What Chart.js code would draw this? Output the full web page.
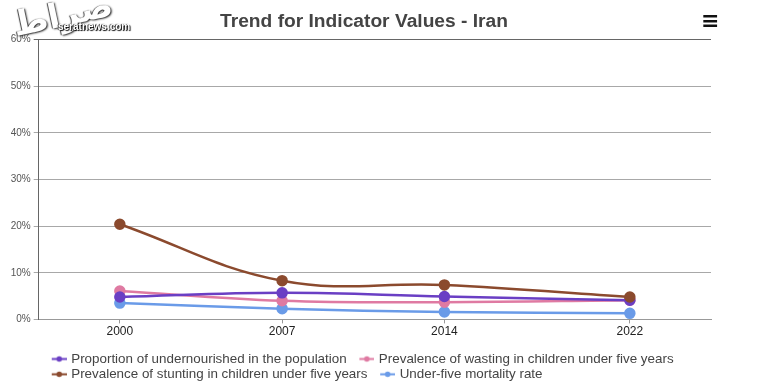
<!DOCTYPE html>
<html>
<head>
<meta charset="utf-8">
<script src="https://cdn.jsdelivr.net/npm/chart.js@4.4.1/dist/chart.umd.min.js"></script>
<style>
  html, body { margin: 0; padding: 0; background: #fff; }
  #wrap { position: relative; width: 764px; height: 391px; }
  #menu { position: absolute; left: 701px; top: 8px; font: bold 22px 'DejaVu Sans', sans-serif; color: #111; }
  #logo { position: absolute; left: 12px; top: -6px; font: bold 34px 'DejaVu Sans', sans-serif; color: #fff;
          text-shadow: 1px 1px 2px #222, -1px 0 1px #444; transform: rotate(-12deg); }
  #site { position: absolute; left: 58px; top: 21px; font: bold 10px 'Liberation Sans', Arial, sans-serif; color: #fff;
          text-shadow: 1px 1px 1px #000, -1px 0 1px #333; }
</style>
</head>
<body>
<div id="wrap">
  <canvas id="lineChart" width="764" height="391"></canvas>
  <div id="menu">≡</div>
  <div id="logo">صراط</div>
  <div id="site">seratnews.com</div>
</div>
<script>
const years = [2000, 2007, 2014, 2022];
const undernourished = [4.8, 5.7, 4.9, 4.1];
const wasting = [6.1, 4.0, 3.7, 4.1];
const stunting = [20.4, 8.3, 7.4, 4.8];
const mortality = [3.5, 2.3, 1.6, 1.3];
const yTicks = [0, 10, 20, 30, 40, 50, 60];

Chart.defaults.font.family = "'Liberation Sans', Arial, sans-serif";

// legend marker: short line with a dot, padded on the left
function marker(color) {
    const c = document.createElement('canvas');
    c.width = 28; c.height = 9;
    const g = c.getContext('2d');
    g.strokeStyle = color; g.lineWidth = 2;
    g.beginPath(); g.moveTo(13, 4.5); g.lineTo(28, 4.5); g.stroke();
    g.fillStyle = color;
    g.beginPath(); g.arc(20.5, 4.5, 2.8, 0, Math.PI * 2); g.fill();
    return c;
}

function series(label, data, color, order) {
    return {
        label: label,
        data: years.map((y, i) => ({x: y, y: data[i]})),
        borderColor: color,
        backgroundColor: color,
        pointBackgroundColor: color,
        pointBorderColor: color,
        borderWidth: 2.5,
        pointRadius: 4.5,
        tension: 0.4,
        fill: false,
        order: order,
        legendMarker: marker(color)
    };
}

const shiftBoxes = {
    id: 'shiftBoxes',
    afterLayout(chart) {
        chart.legend.left = 39;
        chart.titleBlock.left = 17;
    }
};

const CHART = document.getElementById('lineChart');
let lineChart = new Chart(CHART, {
    type: 'line',
    data: {
        datasets: [
            series('Proportion of undernourished in the population', undernourished, '#6a3fc4', 1),
            series('Prevalence of wasting in children under five years', wasting, '#df7aa2', 2),
            series('Prevalence of stunting in children under five years', stunting, '#8b4a2e', 0),
            series('Under-five mortality rate', mortality, '#6a9be8', 3)
        ]
    },
    options: {
        responsive: false,
        animation: false,
        layout: {padding: {left: 0, right: 53, top: 0, bottom: 0}},
        scales: {
            x: {
                type: 'linear',
                min: 1996.5,
                max: 2025.5,
                afterBuildTicks: (s) => { s.ticks = years.map(v => ({value: v})); },
                afterFit: (s) => { s.height = 31; },
                ticks: {
                    color: '#222',
                    font: {size: 12},
                    padding: 1,
                    callback: (v) => String(v)
                },
                grid: {drawOnChartArea: false, tickLength: 4, color: '#999'},
                border: {color: '#999'}
            },
            y: {
                min: 0,
                max: 60,
                afterBuildTicks: (s) => { s.ticks = yTicks.map(v => ({value: v})); },
                afterFit: (s) => { s.width = 38.7; },
                ticks: {
                    color: '#555',
                    font: {size: 10},
                    padding: 3,
                    callback: (v) => v + '%'
                },
                grid: {
                    tickLength: 5,
                    color: (ctx) => ctx.tick && ctx.tick.value === 60 ? '#666' : '#a8a8a8'
                },
                border: {color: '#666'}
            }
        },
        plugins: {
            title: {
                display: true,
                text: 'Trend for Indicator Values - Iran',
                color: '#444',
                font: {size: 19.2, weight: 'bold'},
                padding: {top: 10, bottom: 6.5}
            },
            legend: {
                position: 'bottom',
                align: 'start',
                labels: {
                    color: '#444',
                    font: {size: 13.4},
                    padding: 1.9,
                    usePointStyle: true,
                    pointStyleWidth: 23.6,
                    sort: (a, b) => a.datasetIndex - b.datasetIndex,
                    generateLabels: (chart) => {
                        const items = Chart.defaults.plugins.legend.labels.generateLabels(chart);
                        items.forEach(it => { it.pointStyle = chart.data.datasets[it.datasetIndex].legendMarker; });
                        return items;
                    }
                }
            },
            tooltip: {enabled: false}
        }
    },
    plugins: [shiftBoxes]
});
</script>
</body>
</html>
